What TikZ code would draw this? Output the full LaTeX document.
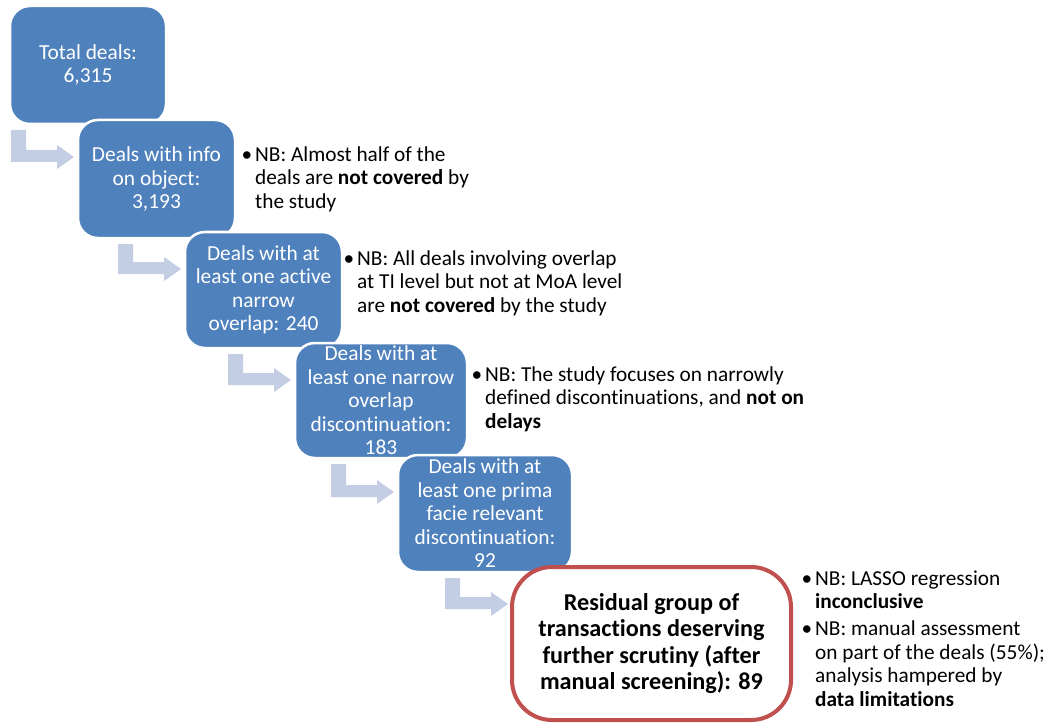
\documentclass[tikz,border=0pt]{standalone}
\usepackage{fontspec}
\setmainfont[Ligatures=NoCommon]{Carlito}
\usetikzlibrary{calc}
\definecolor{dealblue}{RGB}{79,129,189}
\definecolor{arrowgray}{RGB}{195,205,227}
\definecolor{residred}{RGB}{192,80,77}

\begin{document}
\begin{tikzpicture}[x=1pt,y=-1pt,
  deal/.style={draw=white,line width=2.5pt,fill=dealblue,rounded corners=20pt,text=white,align=center,
    font=\fontsize{21.4}{23.5}\selectfont,inner sep=0pt,outer sep=0pt},
  residual/.style={draw=residred,line width=4pt,fill=white,rounded corners=40pt,align=center,
    font=\fontsize{24.2}{26.3}\selectfont\bfseries,inner sep=0pt,outer sep=0pt},
  note/.style={anchor=base west,align=left,font=\fontsize{21.3}{23.5}\selectfont,inner sep=0pt},
  bent/.style={fill=arrowgray,draw=none}]

\useasboundingbox (0,0) rectangle (1048,727);

% the filtering steps
\node[deal,minimum width=156,minimum height=118] (total) at (88,65) {Total deals:\\6,315};
\node[deal,minimum width=157,minimum height=118] (info) at (156.5,179) {Deals with info\\on object:\\3,193};
\node[deal,minimum width=157,minimum height=116] (active) at (263.5,290) {Deals with at\\least one active\\narrow\\overlap: 240};
\node[deal,minimum width=172,minimum height=115] (narrow) at (381,400.5) {Deals with at\\least one narrow\\overlap\\discontinuation:\\183};
\node[deal,minimum width=174,minimum height=117] (prima) at (485,513.5) {Deals with at\\least one prima\\facie relevant\\discontinuation:\\92};
\node[residual,minimum width=279,minimum height=153] (residual) at (651.5,643.5) {Residual group of\\transactions deserving\\further scrutiny (after\\manual screening): 89};

% bent arrows between the steps
\foreach \a/\b in {total/info,info/active,active/narrow,narrow/prima,prima/residual}
  \fill[bent] let \p1=(\a.south), \p2=(\b.north west) in
    (\x2-67pt,\y1-6pt) -- (\x2-52pt,\y1-6pt) -- (\x2-52pt,\y2-30pt) -- (\x2-21pt,\y2-30pt)
    -- (\x2-21pt,\y2-25pt) -- (\x2-4pt,\y2-37pt) -- (\x2-21pt,\y2-49pt) -- (\x2-21pt,\y2-42pt)
    -- (\x2-67pt,\y2-42pt) -- cycle;

% remarks (base = last line)
\node[note] (n1) at (255,208) {\llap{\textbullet\hspace{3pt}}NB: Almost half of the\\deals are \textbf{not covered} by\\the study};
\node[note] (n2) at (357,312) {\llap{\textbullet\hspace{3pt}}NB: All deals involving overlap\\at TI level but not at MoA level\\are \textbf{not covered} by the study};
\node[note] (n3) at (485,428) {\llap{\textbullet\hspace{3pt}}NB: The study focuses on narrowly\\defined discontinuations, and \textbf{not on}\\\textbf{delays}};
\node[note] (n4) at (815,608.5) {\llap{\textbullet\hspace{3pt}}NB: LASSO regression\\\textbf{inconclusive}};
\node[note] (n5) at (815,706) {\llap{\textbullet\hspace{3pt}}NB: manual assessment\\on part of the deals (55\%);\\analysis hampered by\\\textbf{data limitations}};

\end{tikzpicture}
\end{document}
